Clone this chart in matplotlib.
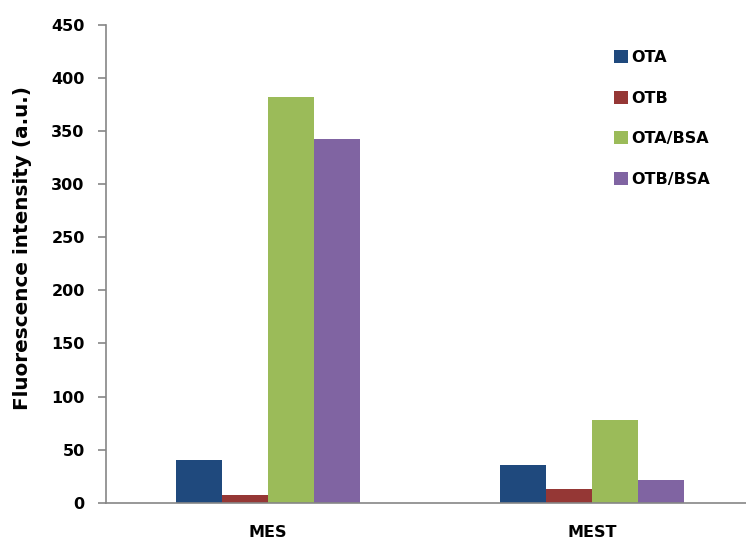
import matplotlib.pyplot as plt
import numpy as np
from matplotlib.patches import Patch

plt.rcParams['font.family'] = ['DejaVu Sans']
plt.rcParams['font.weight'] = 'bold'

# 荧光强度数据
groups = ['MES', 'MEST']
series = ['OTA', 'OTB', 'OTA/BSA', 'OTB/BSA']
ota = [40, 35.5]
otb = [7.5, 13]
ota_bsa = [382, 77.5]
otb_bsa = [342.5, 21.5]
colors = ['#1F497D', '#953735', '#9BBB59', '#8064A2']

W, H = 746, 541
fig = plt.figure(figsize=(W / 100, H / 100), dpi=100)
ax = fig.add_axes([105.5 / W, (H - 502.7) / H, (W - 105.5) / W, (502.7 - 25) / H])

x = np.arange(len(groups))
w = 0.142
for i, (vals, c) in enumerate(zip([ota, otb, ota_bsa, otb_bsa], colors)):
    ax.bar(x + (i - 1.5) * w, vals, w, color=c, label=series[i])

ax.set_xlim(-0.5, 1.475)
ax.set_ylim(0, 450)
ax.set_yticks(range(0, 451, 50))
ax.set_xticks(x)
ax.set_xticklabels(groups, fontsize=11.5, fontweight='bold')
ax.tick_params(axis='x', length=0, pad=16)
ax.tick_params(axis='y', length=6, width=1.2, color='#868686', labelsize=11.5, pad=9)
for lbl in ax.get_yticklabels():
    lbl.set_fontweight('bold')

for s in ['top', 'right']:
    ax.spines[s].set_visible(False)
for s in ['left', 'bottom']:
    ax.spines[s].set_color('#868686')
    ax.spines[s].set_linewidth(1.2)

fig.text(23 / W, 1 - 248 / H, 'Fluorescence intensity (a.u.)', rotation=90,
         ha='center', va='center', fontsize=14.4, fontweight='bold')

handles = [Patch(facecolor=c, label=s) for c, s in zip(colors, series)]
leg = fig.legend(handles=handles, loc='upper left', bbox_to_anchor=(606 / W, 1 - 42 / H),
                 frameon=False, fontsize=11.5, handlelength=0.88, handleheight=0.88,
                 handletextpad=0.2, labelspacing=1.6, borderpad=0)
for t in leg.get_texts():
    t.set_fontweight('bold')

fig.savefig('out.png', dpi=100)
